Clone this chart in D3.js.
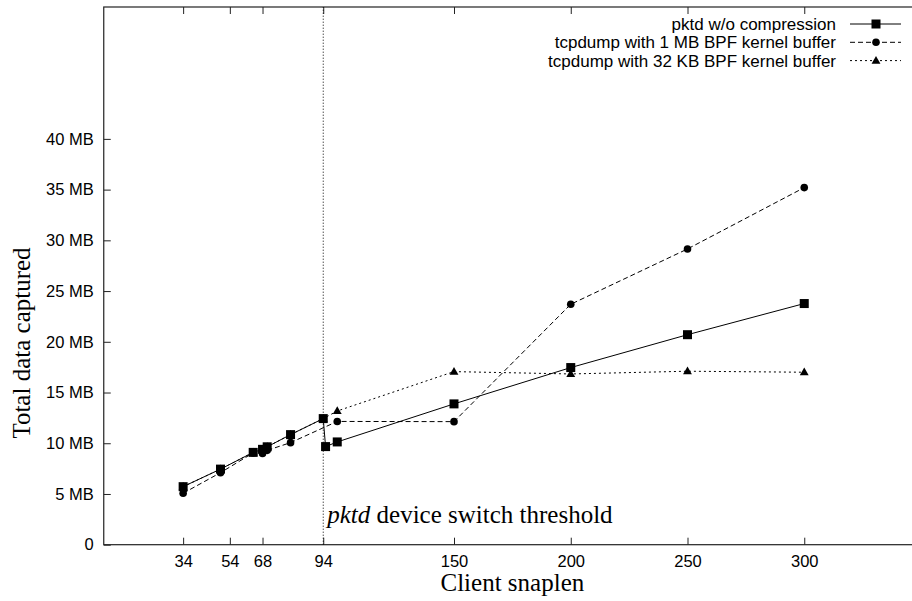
<!DOCTYPE html>
<html>
<head>
<meta charset="utf-8">
<script src="https://cdn.jsdelivr.net/npm/d3@7"></script>
<style>
  body { margin: 0; background: #fff; }
  svg { display: block; }
</style>
</head>
<body>
<svg id="chart"></svg>
<script>
// snaplen ticks and MB ticks
const xTicks = [34, 54, 68, 94, 150, 200, 250, 300];
const yTicks = [0, 5, 10, 15, 20, 25, 30, 35, 40];

// pktd w/o compression
const pktdX = [34, 50, 64, 68, 70, 80, 94, 95, 100, 150, 200, 250, 300];
const pktdY = [5.72, 7.45, 9.1, 9.4, 9.65, 10.85, 12.43, 9.67, 10.13, 13.88, 17.46, 20.7, 23.77];

// tcpdump with 1 MB buffer
const mbX = [34, 50, 64, 68, 70, 80, 100, 150, 200, 250, 300];
const mbY = [5.07, 7.1, 9.05, 9.0, 9.3, 10.06, 12.15, 12.13, 23.7, 29.15, 35.2];

// tcpdump with 32 KB buffer (hidden under pktd at small snaplens)
const kbX = [34, 50, 64, 68, 70, 80, 94, 100, 150, 200, 250, 300];
const kbY = [5.72, 7.45, 9.1, 9.4, 9.65, 10.85, 12.43, 13.18, 17.06, 16.83, 17.1, 17.0];

const seriesNames = ['pktd w/o compression', 'tcpdump with 1 MB BPF kernel buffer', 'tcpdump with 32 KB BPF kernel buffer'];
const threshold = 94;

const W = 912, H = 601;
const svg = d3.select('#chart').attr('width', W).attr('height', H);

// plot box (right edge runs past the window, as in the original)
let box = { left: 103.75, right: 921, top: 7, bottom: 544.7 };

const x = d3.scaleLinear().domain([0, 350]).range([box.left, box.right]);
const y = d3.scaleLinear().domain([0, 53]).range([box.bottom, box.top]);

const sans = 'Liberation Sans, Arial, Helvetica, sans-serif';
const serif = 'Liberation Serif, Times New Roman, serif';

// frame
svg.append('rect')
	.attr('x', box.left).attr('y', box.top)
	.attr('width', box.right - box.left).attr('height', box.bottom - box.top)
	.attr('fill', 'none').attr('stroke', '#222').attr('stroke-width', 1.2);

// inward ticks (gnuplot style), bottom and mirrored on top
svg.append('g').attr('transform', 'translate(0,' + box.bottom + ')')
	.call(d3.axisTop(x).tickValues(xTicks).tickSize(7).tickFormat(''))
	.call(g => g.select('.domain').remove());
svg.append('g').attr('transform', 'translate(0,' + box.top + ')')
	.call(d3.axisBottom(x).tickValues(xTicks).tickSize(7).tickFormat(''))
	.call(g => g.select('.domain').remove());

svg.append('g').attr('transform', 'translate(0,' + box.bottom + ')')
	.call(d3.axisBottom(x).tickValues(xTicks).tickSize(0).tickPadding(11))
	.call(g => g.select('.domain').remove())
	.selectAll('text').attr('font-family', sans).attr('font-size', 16.5).attr('fill', '#000');

svg.append('g').attr('transform', 'translate(' + box.left + ',0)')
	.call(d3.axisRight(y).tickValues(yTicks).tickSize(7).tickFormat(''))
	.call(g => g.select('.domain').remove());

svg.append('g').attr('transform', 'translate(' + box.left + ',0)')
	.call(d3.axisLeft(y).tickValues(yTicks).tickSize(0).tickPadding(10)
		.tickFormat(d => d === 0 ? '0' : d + ' MB'))
	.call(g => g.select('.domain').remove())
	.selectAll('text').attr('font-family', sans).attr('font-size', 16.5).attr('fill', '#000');

svg.selectAll('.tick line').attr('stroke', '#222');

// threshold line
svg.append('line')
	.attr('x1', x(threshold)).attr('x2', x(threshold))
	.attr('y1', y(0)).attr('y2', box.top)
	.attr('stroke', '#000').attr('stroke-width', 1).attr('stroke-dasharray', '1,2');

const thr = svg.append('text')
	.attr('x', x(threshold) + 4).attr('y', 523)
	.attr('font-family', serif).attr('font-size', 25).attr('fill', '#000');
thr.append('tspan').attr('font-style', 'italic').text('pktd');
thr.append('tspan').text(' device switch threshold');

// axis titles
svg.append('text')
	.attr('x', (box.left + box.right) / 2).attr('y', 591)
	.attr('text-anchor', 'middle')
	.attr('font-family', serif).attr('font-size', 25)
	.text('Client snaplen');

svg.append('text')
	.attr('transform', 'translate(30,343) rotate(-90)')
	.attr('text-anchor', 'middle')
	.attr('font-family', serif).attr('font-size', 25)
	.text('Total data captured');

function toPts(xs, ys) {
	return xs.map((v, i) => [v, ys[i]]);
}

const series = [
	{ pts: toPts(pktdX, pktdY), dash: null, mark: 'square' },
	{ pts: toPts(mbX, mbY), dash: '5,3', mark: 'circle' },
	{ pts: toPts(kbX, kbY), dash: '2,3', mark: 'triangle' }
];

const line = d3.line().x(d => x(d[0])).y(d => y(d[1]));

function drawMark(g, type, cx, cy) {
	if (type === 'square') {
		g.append('rect').attr('x', cx - 4.5).attr('y', cy - 4.5)
			.attr('width', 9).attr('height', 9).attr('fill', '#000');
	} else if (type === 'circle') {
		g.append('circle').attr('cx', cx).attr('cy', cy).attr('r', 3.8).attr('fill', '#000');
	} else {
		g.append('path')
			.attr('d', d3.symbol(d3.symbolTriangle, 34)())
			.attr('transform', 'translate(' + cx + ',' + (cy + 0.5) + ')')
			.attr('fill', '#000');
	}
}

// draw back to front so pktd sits on top
for (let k = series.length - 1; k >= 0; k--) {
	let s = series[k];
	let g = svg.append('g');
	g.append('path').attr('d', line(s.pts))
		.attr('fill', 'none').attr('stroke', '#000').attr('stroke-width', 1)
		.attr('stroke-dasharray', s.dash);
	s.pts.forEach(p => drawMark(g, s.mark, x(p[0]), y(p[1])));
}

// legend
const legY = [24, 42.3, 60.6];
series.forEach((s, i) => {
	let g = svg.append('g');
	g.append('text')
		.attr('x', 836).attr('y', legY[i]).attr('dy', '0.35em')
		.attr('text-anchor', 'end')
		.attr('font-family', sans).attr('font-size', 17)
		.text(seriesNames[i]);
	g.append('line')
		.attr('x1', 850).attr('x2', 901).attr('y1', legY[i]).attr('y2', legY[i])
		.attr('stroke', '#000').attr('stroke-width', 1).attr('stroke-dasharray', s.dash);
	drawMark(g, s.mark, 876, legY[i]);
});
</script>
</body>
</html>
